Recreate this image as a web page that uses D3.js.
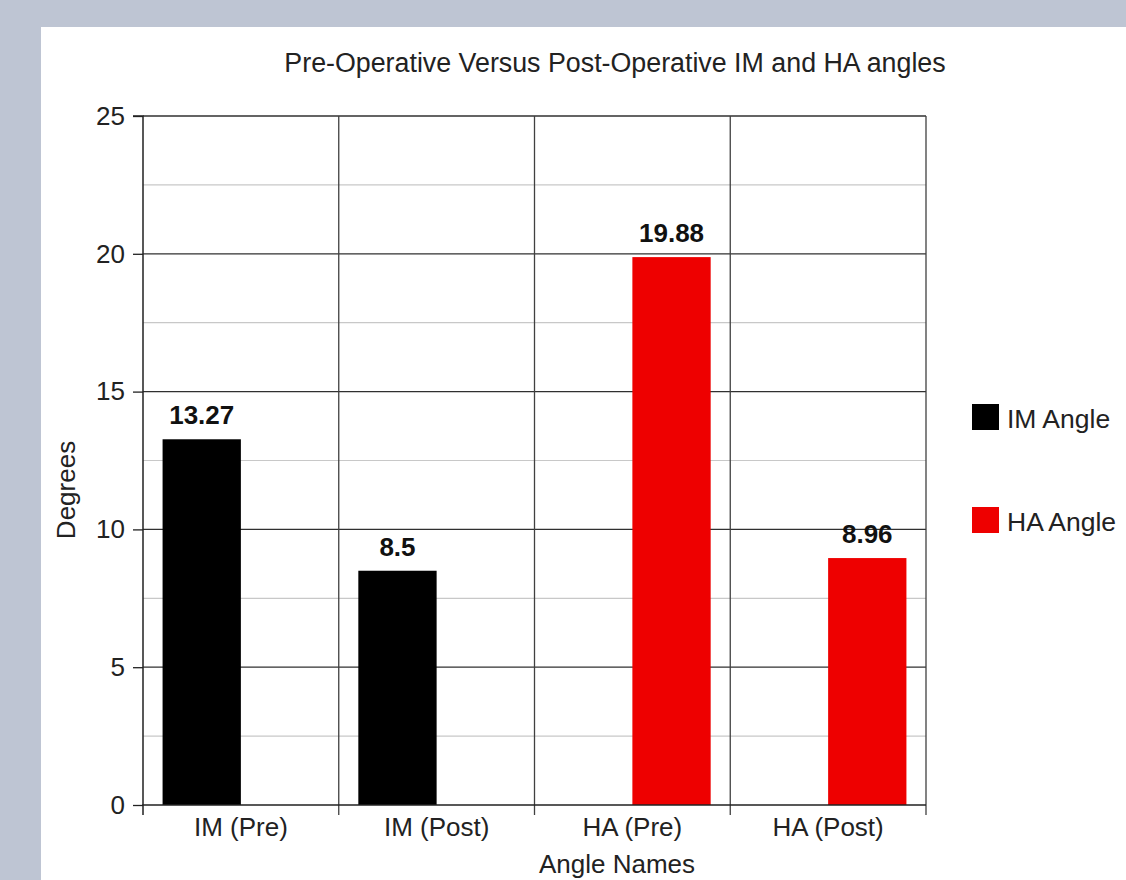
<!DOCTYPE html>
<html>
<head>
<meta charset="utf-8">
<script src="https://cdn.jsdelivr.net/npm/d3@7"></script>
<style>
  html, body { margin: 0; padding: 0; background: #bec5d3; overflow: hidden; }
  svg { display: block; font-family: "Liberation Sans", Arial, sans-serif; }
</style>
</head>
<body>
<script>
// Chart data
const categories = ["IM (Pre)", "IM (Post)", "HA (Pre)", "HA (Post)"];
const seriesNames = ["IM Angle", "HA Angle"];
const imAngle = [13.27, 8.5, null, null];
const haAngle = [null, null, 19.88, 8.96];
const yTicks = [0, 5, 10, 15, 20, 25];
const seriesColors = ["#000000", "#ee0000"];

const W = 1126, H = 880;
const margin = { left: 143, top: 116, right: 1126 - 926, bottom: 880 - 805 };
const FS = 26;

const svg = d3.select("body").append("svg").attr("width", W).attr("height", H);

// white panel
svg.append("rect").attr("x", 41).attr("y", 27).attr("width", W - 41).attr("height", H - 27).attr("fill", "#fff");

const x0 = d3.scaleBand().domain(categories).range([margin.left, W - margin.right]).padding(0);
const x1 = d3.scaleBand().domain(seriesNames).range([0, x0.bandwidth()]).paddingInner(0).paddingOuter(0.25);
const y = d3.scaleLinear().domain([0, 25]).range([H - margin.bottom, margin.top]);

const g = svg.append("g");

// minor grid lines
const minor = d3.range(2.5, 25, 5);
g.selectAll("line.minor").data(minor).join("line")
  .attr("x1", margin.left).attr("x2", W - margin.right)
  .attr("y1", d => y(d)).attr("y2", d => y(d))
  .attr("stroke", "#c8c8c8").attr("stroke-width", 1.2);

// major grid lines
g.selectAll("line.major").data(yTicks.slice(1)).join("line")
  .attr("x1", margin.left).attr("x2", W - margin.right)
  .attr("y1", d => y(d)).attr("y2", d => y(d))
  .attr("stroke", "#303030").attr("stroke-width", 1.3);

// vertical category separators
const seps = categories.slice(1).map(c => x0(c)).concat([W - margin.right]);
g.selectAll("line.sep").data(seps).join("line")
  .attr("x1", d => d).attr("x2", d => d)
  .attr("y1", margin.top).attr("y2", H - margin.bottom + 10)
  .attr("stroke", "#404040").attr("stroke-width", 1.3);

// bars with value labels
const rows = categories.map((c, i) => ({ cat: c, vals: [imAngle[i], haAngle[i]] }));
const barG = g.append("g");
rows.forEach(r => {
  r.vals.forEach((v, j) => {
    if (v == null) return;
    const bx = x0(r.cat) + x1(seriesNames[j]);
    barG.append("rect")
      .attr("x", bx).attr("y", y(v))
      .attr("width", x1.bandwidth()).attr("height", y(0) - y(v))
      .attr("fill", seriesColors[j]);
    barG.append("text")
      .attr("x", bx + x1.bandwidth() / 2).attr("y", y(v) - 15)
      .attr("text-anchor", "middle")
      .attr("font-size", FS).attr("font-weight", "bold").attr("fill", "#111")
      .text(v);
  });
});

// y axis
const yAxis = g.append("g").attr("transform", `translate(${margin.left},0)`)
  .call(d3.axisLeft(y).tickValues(yTicks).tickSize(10).tickPadding(8));
yAxis.select(".domain").attr("stroke", "#222").attr("stroke-width", 1.5).attr("d", `M-10,${y(25)}H0V${y(0)}`);
yAxis.selectAll(".tick line").attr("stroke", "#222").attr("stroke-width", 1.3);
yAxis.selectAll(".tick text").attr("font-size", FS).attr("fill", "#222").attr("font-family", "Liberation Sans, Arial, sans-serif");

// x axis
const xAxis = g.append("g").attr("transform", `translate(0,${y(0)})`)
  .call(d3.axisBottom(x0).tickSize(0).tickPadding(13));
xAxis.select(".domain").attr("stroke", "#222").attr("stroke-width", 1.5).attr("d", `M${margin.left},10V0H${W - margin.right}`);
xAxis.selectAll(".tick text").attr("font-size", FS).attr("fill", "#222").attr("font-family", "Liberation Sans, Arial, sans-serif");

// title
svg.append("text").attr("x", 615).attr("y", 72).attr("text-anchor", "middle")
  .attr("font-size", 26.8).attr("fill", "#222").text("Pre-Operative Versus Post-Operative IM and HA angles");

// axis titles
svg.append("text").attr("x", 617).attr("y", 873).attr("text-anchor", "middle")
  .attr("font-size", FS).attr("fill", "#222").text("Angle Names");
svg.append("text").attr("transform", "translate(75,490) rotate(-90)").attr("text-anchor", "middle")
  .attr("font-size", FS).attr("fill", "#222").text("Degrees");

// legend
const legend = svg.append("g").attr("transform", "translate(972,404)");
seriesNames.forEach((s, i) => {
  const lg = legend.append("g").attr("transform", `translate(0,${i * 103})`);
  lg.append("rect").attr("width", 27).attr("height", 26).attr("fill", seriesColors[i]);
  lg.append("text").attr("x", 35).attr("y", 24).attr("font-size", 26.5).attr("fill", "#222").text(s);
});
</script>
</body>
</html>
